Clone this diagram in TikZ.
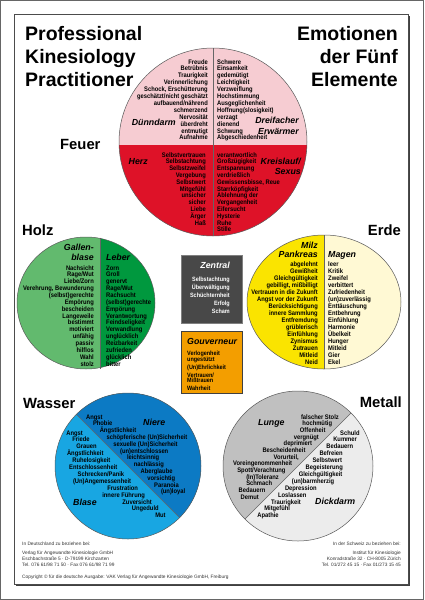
\documentclass[tikz,border=0pt]{standalone}
\usepackage{fontspec}
\setmainfont{Liberation Sans}
\newfontfamily\condfont[FakeStretch=0.88]{Liberation Sans}
\definecolor{pinkc}{RGB}{246,204,210}
\definecolor{redc}{RGB}{222,18,40}
\definecolor{lgreen}{RGB}{98,186,110}
\definecolor{dgreen}{RGB}{0,152,62}
\definecolor{yelc}{RGB}{250,228,0}
\definecolor{pyel}{RGB}{255,249,212}
\definecolor{zgray}{RGB}{72,72,72}
\definecolor{orangec}{RGB}{243,158,0}
\definecolor{lblue}{RGB}{24,166,226}
\definecolor{dblue}{RGB}{12,122,196}
\definecolor{mgray}{RGB}{192,192,192}
\definecolor{lgray}{RGB}{236,236,236}
\newcommand\smtxt{\condfont\fontsize{6.6}{6.9}\selectfont\bfseries}
\newcommand\zbtxt{\condfont\fontsize{6.2}{6.5}\selectfont\bfseries}
\newcommand\orgtxt{\fontsize{8.8}{10}\selectfont\bfseries\itshape}
\newcommand\eltxt{\fontsize{14.8}{16}\selectfont\bfseries}
\newcommand\ttltxt{\fontsize{19.5}{23}\selectfont\bfseries}
\newcommand\finetxt{\fontsize{4.8}{5.5}\selectfont}
\tikzset{
  lr/.style={anchor=base east, inner sep=0pt, font=\smtxt},
  ll/.style={anchor=base west, inner sep=0pt, font=\smtxt},
  zr/.style={anchor=base east, inner sep=0pt, font=\zbtxt, text=white},
  zl/.style={anchor=base west, inner sep=0pt, font=\zbtxt},
  ogr/.style={anchor=base east, inner sep=0pt, font=\orgtxt},
  ogl/.style={anchor=base west, inner sep=0pt, font=\orgtxt},
  elemL/.style={anchor=base west, inner sep=0pt, font=\eltxt},
  elemR/.style={anchor=base east, inner sep=0pt, font=\eltxt},
  ttlL/.style={anchor=base west, inner sep=0pt, font=\ttltxt},
  ttlR/.style={anchor=base east, inner sep=0pt, font=\ttltxt},
  fineL/.style={anchor=base west, inner sep=0pt, font=\finetxt, text=black!80},
  fineR/.style={anchor=base east, inner sep=0pt, font=\finetxt, text=black!80},
  rim/.style={draw=black!65, line width=0.5pt},
  sepl/.style={draw=black!60, line width=0.5pt},
}
\begin{document}
\begin{tikzpicture}[x=1pt,y=-1pt]
\useasboundingbox (0,0) rectangle (424,600);
\fill[white] (0,0) rectangle (424,600);
\draw[black!60, line width=1pt] (0.5,0.5) rectangle (423.5,599.5);
\draw[black!75, line width=1.6pt] (16,585) -- (409,585) -- (409,16);
\draw[black!70, line width=0.7pt] (14,14) rectangle (408,584);

% titles
\node[ttlL] (tl1) at (25,40) {Professional};
\node[ttlL] (tl2) at (25,63) {Kinesiology};
\node[ttlL] (tl3) at (25,86) {Practitioner};
\node[ttlR] (tr1) at (398,40) {Emotionen};
\node[ttlR] (tr2) at (398,63) {der Fünf};
\node[ttlR] (tr3) at (398,86) {Elemente};

% element labels
\node[elemL] (feuer) at (60,149) {Feuer};
\node[elemL] (holz) at (22,235) {Holz};
\node[elemR] (erde) at (401,235) {Erde};
\node[elemL] (wasser) at (23,408) {Wasser};
\node[elemR] (metall) at (402,407) {Metall};

% ---------- Fire ----------
\begin{scope}
\clip (213,142) circle[radius=94];
\fill[pinkc] (100,40) rectangle (320,145);
\fill[redc] (100,145) rectangle (320,240);
\end{scope}
\draw[sepl] (213,48) -- (213,236);
\draw[rim] (213,142) circle[radius=94];

\foreach \t [count=\i] in {Freude,Betrübnis,Traurigkeit,Verinnerlichung,{Schock, Erschütterung},geschätzt/nicht geschätzt,aufbauend/nährend,schmerzend,Nervosität,überdreht,entmutigt,Aufnahme}
  \node[lr] (fa\i) at (208,{64+6.9*(\i-1)}) {\t};
\foreach \t [count=\i] in {Schwere,Einsamkeit,gedemütigt,Leichtigkeit,Verzweiflung,Hochstimmung,Ausgeglichenheit,Hoffnung(slosigkeit),verzagt,dienend,Schwung,Abgeschiedenheit}
  \node[ll] (fb\i) at (217,{64+6.9*(\i-1)}) {\t};
\foreach \t [count=\i] in {Selbstvertrauen,Selbstachtung,Selbstzweifel,Vergebung,Selbstwert,Mitgefühl,unsicher,sicher,Liebe,Ärger,Haß}
  \node[lr] (fc\i) at (206,{157+6.8*(\i-1)}) {\t};
\foreach \t [count=\i] in {verantwortlich,Großzügigkeit,Entspannung,verdrießlich,{Gewissensbisse, Reue},Starrköpfigkeit,Ablehnung der,Vergangenheit,Eifersucht,Hysterie,Ruhe,Stille}
  \node[ll] (fd\i) at (217,{157+6.8*(\i-1)}) {\t};
\node[ogr] (duenn) at (176,125) {Dünndarm};
\node[ogr] (drei1) at (299,123) {Dreifacher};
\node[ogr] (drei2) at (299,134) {Erwärmer};
\node[ogr] (herz) at (148,164) {Herz};
\node[ogr] (kreis1) at (301,164) {Kreislauf/};
\node[ogr] (kreis2) at (301,174) {Sexus};

% ---------- Wood ----------
\begin{scope}
\clip (86,303) ellipse[x radius=69, y radius=66];
\fill[lgreen] (10,230) rectangle (100,375);
\fill[dgreen] (100,230) rectangle (160,375);
\end{scope}
\draw[sepl] (100,237.5) -- (100,368.5);
\draw[rim] (86,303) ellipse[x radius=69, y radius=66];
\node[ogr] (gal1) at (94,250) {Gallen-};
\node[ogr] (gal2) at (94,260) {blase};
\node[ogl] (leber) at (106,260) {Leber};
\foreach \t [count=\i] in {Nachsicht,Rage/Wut,Liebe/Zorn,{Verehrung, Bewunderung},(selbst)gerechte,Empörung,bescheiden,Langeweile,bestimmt,motiviert,unfähig,passiv,hilflos,Wahl,stolz}
  \node[lr] (ha\i) at (94,{270+6.86*(\i-1)}) {\t};
\foreach \t [count=\i] in {Zorn,Groll,genervt,Rage/Wut,Rachsucht,(selbst)gerechte,Empörung,Verantwortung,Feindseligkeit,Verwandlung,unglücklich,Reizbarkeit,zufrieden,glücklich,bitter}
  \node[ll] (hb\i) at (106,{270+6.86*(\i-1)}) {\t};

% ---------- Earth ----------
\begin{scope}
\clip (324,302) ellipse[x radius=77, y radius=67];
\fill[yelc] (240,230) rectangle (324,375);
\fill[pyel] (324,230) rectangle (410,375);
\end{scope}
\draw[sepl] (324,235) -- (324,369);
\draw[rim] (324,302) ellipse[x radius=77, y radius=67];
\node[ogr] (milz1) at (318,248) {Milz};
\node[ogr] (milz2) at (318,257) {Pankreas};
\node[ogl] (magen) at (328,257) {Magen};
\foreach \t [count=\i] in {abgelehnt,Gewißheit,Gleichgültigkeit,{gebilligt, mißbilligt},Vertrauen in die Zukunft,Angst vor der Zukunft,Berücksichtigung,innere Sammlung,Entfremdung,grüblerisch,Einfühlung,Zynismus,Zutrauen,Mitleid,Neid}
  \node[lr] (ea\i) at (318,{266+7.0*(\i-1)}) {\t};
\foreach \t [count=\i] in {leer,Kritik,Zweifel,verbittert,Zufriedenheit,(un)zuverlässig,Enttäuschung,Entbehrung,Einfühlung,Harmonie,Übelkeit,Hunger,Mitleid,Gier,Ekel}
  \node[ll] (eb\i) at (328,{266+7.0*(\i-1)}) {\t};

% ---------- Centre boxes ----------
\filldraw[fill=zgray, draw=black!50, line width=0.5pt] (181,255) rectangle (242,323);
\node[ogr, text=white] (zentral) at (230,268) {Zentral};
\foreach \t [count=\i] in {Selbstachtung,Überwältigung,Schüchternheit,Erfolg,Scham}
  \node[zr] (za\i) at (230,{281+8.2*(\i-1)}) {\t};
\filldraw[fill=orangec, draw=black!75, line width=0.6pt] (181,331) rectangle (242,393);
\node[ogl] (gouv) at (187,344) {Gouverneur};
\node[zl] (go1) at (187,355) {Verlogenheit};
\node[zl] (go2) at (187,361.5) {ungestützt};
\node[zl] (go3) at (187,369) {(Un)Ehrlichkeit};
\node[zl] (go4) at (187,377) {Vertrauen/};
\node[zl] (go5) at (187,382.5) {Mißtrauen};
\node[zl] (go6) at (187,390) {Wahrheit};

% ---------- Water ----------
\begin{scope}
\clip (128,466) circle[radius=73];
\fill[lblue] (50,385) rectangle (210,545);
\fill[dblue] (40,378) -- (240,378) -- (240,578) -- cycle;
\end{scope}
\draw[sepl] (76.4,414.4) -- (179.6,517.6);
\draw[rim] (128,466) circle[radius=73];
\node[ogl] (niere) at (143,425) {Niere};
\node[ogl] (blase) at (73,505) {Blase};
\foreach \t [count=\i] in {Angst,Phobie,Ängstlichkeit,schöpferische (Un)Sicherheit,sexuelle (Un)Sicherheit,(un)entschlossen,leichtsinnig,nachlässig,Aberglaube,vorsichtig,Paranoia,(un)loyal}
  {\pgfmathsetmacro\yy{417+6.8*(\i-1)}
   \node[ll] (wa\i) at ({\yy-331},{\yy+2}) {\t};}
\foreach \t [count=\i] in {Angst,Friede,Grauen,Ängstlichkeit,Ruhelosigkeit,Entschlossenheit,Schrecken/Panik,(Un)Angemessenheit,Frustration,innere Führung,Zuversicht,Ungeduld,Mut}
  {\pgfmathsetmacro\yy{433+6.9*(\i-1)}
   \node[lr] (wb\i) at ({\yy-350},{\yy+2}) {\t};}

% ---------- Metal ----------
\begin{scope}
\clip (298,466) circle[radius=75];
\fill[lgray] (215,385) rectangle (380,545);
\fill[mgray] (200,380) -- (384,380) -- (200,564) -- cycle;
\end{scope}
\draw[sepl] (351,413) -- (245,519);
\draw[rim] (298,466) circle[radius=75];
\node[ogl] (lunge) at (258,425) {Lunge};
\node[ogl] (dick) at (315,504) {Dickdarm};
\foreach \t [count=\i] in {falscher Stolz,hochmütig,Offenheit,vergnügt,deprimiert,Bescheidenheit,{Vorurteil,},Voreingenommenheit,Spott/Verachtung,(In)Toleranz,Schmach,Bedauern,Demut}
  {\pgfmathsetmacro\yy{417+6.67*(\i-1)}
   \node[lr] (ma\i) at ({756-\yy},{\yy+2}) {\t};}
\foreach \t [count=\i] in {Schuld,Kummer,Bedauern,Befreien,Selbstwert,Begeisterung,Gleichgültigkeit,(un)barmherzig,Depression,Loslassen,Traurigkeit,Mitgefühl,Apathie}
  {\pgfmathsetmacro\yy{433+6.9*(\i-1)}
   \node[ll] (mb\i) at ({773-\yy},{\yy+2}) {\t};}

% ---------- footer ----------
\node[fineL] (fl1) at (22,545) {In Deutschland zu beziehen bei:};
\node[fineL] (fl2) at (22,554) {Verlag für Angewandte Kinesiologie GmbH};
\node[fineL] (fl3) at (22,560) {Eschbachstraße 5 · D-79199 Kirchzarten};
\node[fineL] (fl4) at (22,566) {Tel. 076 61/98 71 50 · Fax 076 61/98 71 99};
\node[fineL] (fl5) at (22,578) {Copyright © für die deutsche Ausgabe: VAK Verlag für Angewandte Kinesiologie GmbH, Freiburg};
\node[fineR] (fr1) at (401,545) {In der Schweiz zu beziehen bei:};
\node[fineR] (fr2) at (401,554) {Institut für Kinesiologie};
\node[fineR] (fr3) at (401,560) {Konradstraße 32 · CH-8005 Zürich};
\node[fineR] (fr4) at (401,566) {Tel. 01/272 45 15 · Fax 01/273 15 45};
\end{tikzpicture}
\end{document}
